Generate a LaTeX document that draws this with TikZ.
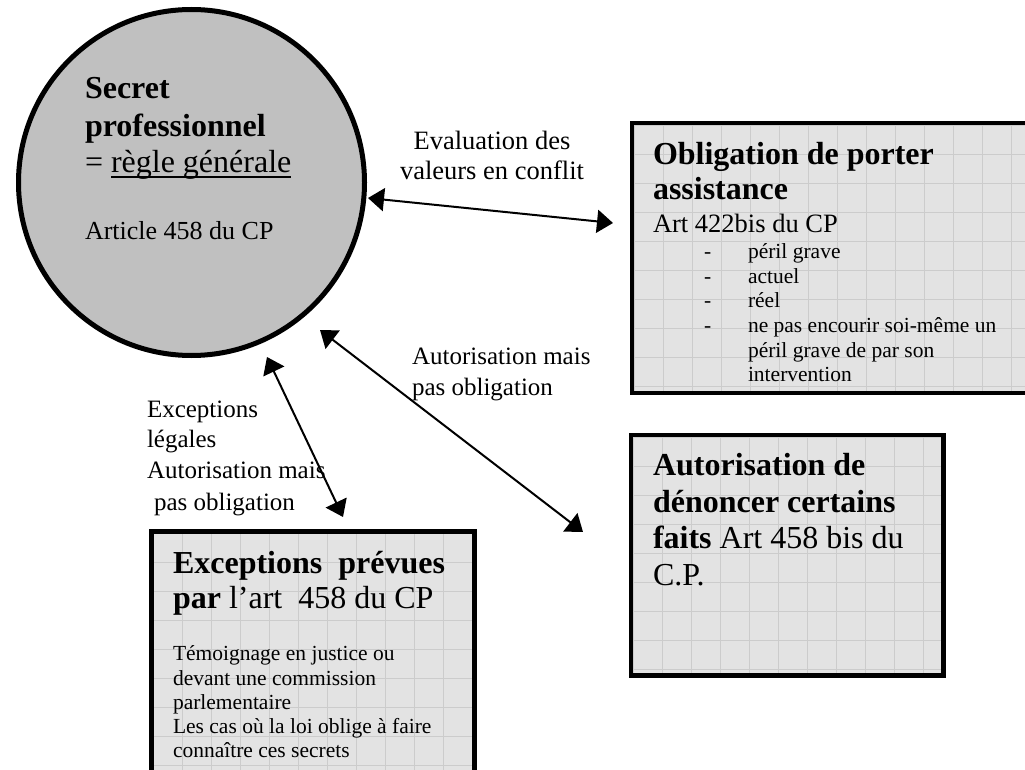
\documentclass[tikz,border=0pt]{standalone}
\usepackage{fontspec}
\setmainfont{Liberation Serif}
\usetikzlibrary{arrows.meta}
\definecolor{circfill}{RGB}{192,192,192}
\definecolor{boxfill}{RGB}{227,227,227}
\definecolor{gridcol}{RGB}{204,204,204}
\newcommand\myul[1]{\setbox0=\hbox{#1}\rlap{\rule[-5pt]{\wd0}{1.8pt}}\box0}
\tikzset{
  every node/.style={inner sep=0pt, outer sep=0pt},
  gridl/.style={draw=gridcol, line width=0.9pt},
  gbox/.style={rectangle, draw=black, line width=4.5pt, fill=boxfill,
    path picture={
      \foreach \k in {0,...,15}{
        \draw[gridl] ([xshift={2pt+29pt*\k}]path picture bounding box.north west) -- ([xshift={2pt+29pt*\k}]path picture bounding box.south west);
        \draw[gridl] ([yshift={-2pt-29pt*\k}]path picture bounding box.north west) -- ([yshift={-2pt-29pt*\k}]path picture bounding box.north east);
      }}},
  bigb/.style={anchor=base west, font=\fontsize{32}{38}\selectfont\bfseries},
  bigr/.style={anchor=base west, font=\fontsize{32}{38}\selectfont},
  midr/.style={anchor=base west, font=\fontsize{26.5}{30}\selectfont},
  labr/.style={anchor=base west, font=\fontsize{25}{30}\selectfont},
  smallr/.style={anchor=base west, font=\fontsize{21.5}{24}\selectfont},
  arr/.style={{Triangle[length=16pt,width=23pt]}-{Triangle[length=16pt,width=23pt]}, line width=2pt}
}
\begin{document}
\begin{tikzpicture}[x=1pt,y=-1pt]
\useasboundingbox (0,0) rectangle (1025,770);
\fill[white] (0,0) rectangle (1025,770);

% central circle
\node[circle, draw=black, line width=5pt, fill=circfill, minimum size=346pt] (circ) at (191.5,182.5) {};
\node[bigb] (c1) at (85,99) {Secret};
\node[bigb] (c2) at (85,137) {professionnel};
\node[bigr] (c3) at (85,173) {= \myul{règle générale}};
\node[anchor=base west, font=\fontsize{26}{30}\selectfont] (c4) at (85,240) {Article 458 du CP};

% box 1 : obligation
\node[gbox, minimum width=408pt, minimum height=270pt] (b1) at (836,258) {};
\node[bigb] (o1) at (653,165) {Obligation de porter};
\node[bigb] (o2) at (653,200) {assistance};
\node[midr] (o3) at (653,233) {Art 422bis du CP};
\node[smallr] (d1) at (704,258) {-};
\node[smallr] (d2) at (704,283) {-};
\node[smallr] (d3) at (704,307) {-};
\node[smallr] (d4) at (704,332) {-};
\node[smallr] (i1) at (748,258) {péril grave};
\node[smallr] (i2) at (748,283) {actuel};
\node[smallr] (i3) at (748,307) {réel};
\node[smallr] (i4) at (748,332) {ne pas encourir soi-même un};
\node[smallr] (i5) at (748,357) {péril grave de par son};
\node[smallr] (i6) at (748,381) {intervention};

% box 2 : autorisation
\node[gbox, minimum width=312.5pt, minimum height=240.5pt] (b2) at (787.25,555.25) {};
\node[bigb] (a1) at (653,475) {Autorisation de};
\node[bigb] (a2) at (653,512) {dénoncer certains};
\node[bigr] (a3) at (653,548) {\textbf{faits} Art 458 bis du};
\node[bigr] (a4) at (653,585) {C.P.};

% box 3 : exceptions
\node[gbox, minimum width=323pt, minimum height=260pt] (b3) at (313,661.5) {};
\node[bigb] (e1) at (173,573) {Exceptions\ \ prévues};
\node[bigr] (e2) at (173,608) {\textbf{par} l’art\ \ 458 du CP};
\node[smallr] (e3) at (173,660) {Témoignage en justice ou};
\node[smallr] (e4) at (173,685) {devant une commission};
\node[smallr] (e5) at (173,709) {parlementaire};
\node[smallr] (e6) at (173,733) {Les cas où la loi oblige à faire};
\node[smallr] (e7) at (173,757) {connaître ces secrets};

% labels
\node[anchor=base, font=\fontsize{26.5}{30}\selectfont] (l1) at (492,150) {Evaluation des};
\node[anchor=base, font=\fontsize{26.5}{30}\selectfont] (l2) at (492,180) {valeurs en conflit};
\node[labr] (l3) at (412,364) {Autorisation mais};
\node[labr] (l4) at (412,395) {pas obligation};
\node[labr] (l5) at (147,417) {Exceptions};
\node[labr] (l6) at (147,447) {légales};
\node[labr] (l7) at (147,478) {Autorisation mais};
\node[labr] (l8) at (154,510) {pas obligation};

% arrow end points
\coordinate (p1s) at (368,198);
\coordinate (p1e) at (613,223);
\coordinate (p2s) at (320,330);
\coordinate (p2e) at (583,532);
\coordinate (p3s) at (267,357);
\coordinate (p3e) at (343,517);
\draw[arr] (p1s) -- (p1e);
\draw[arr] (p2s) -- (p2e);
\draw[arr] (p3s) -- (p3e);
\end{tikzpicture}
\end{document}
